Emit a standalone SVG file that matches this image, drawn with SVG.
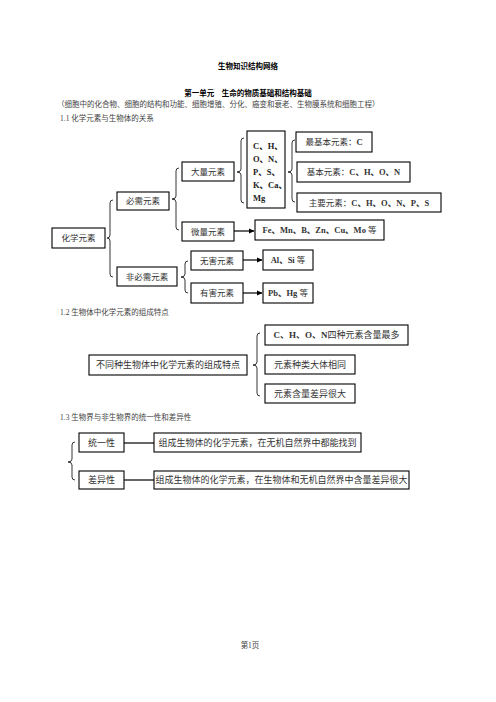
<svg xmlns="http://www.w3.org/2000/svg" width="496" height="702" viewBox="0 0 496 702">
<style>
.bg{fill:#fff}
.box{fill:#fff;stroke:#000;stroke-width:1.1}
.t{font-family:"Liberation Serif","Noto Sans CJK SC",serif;font-size:8.5px;fill:#333;text-anchor:middle}
.t9{font-family:"Liberation Serif","Noto Sans CJK SC",serif;font-size:9px;fill:#333;text-anchor:middle}
.tl{font-family:"Liberation Serif","Noto Sans CJK SC",serif;font-size:8.5px;fill:#222;font-weight:bold}
.cap{font-family:"Liberation Serif","Noto Sans CJK SC",serif;font-size:7.5px;fill:#444}
.hd{font-family:"Noto Sans CJK SC",sans-serif;font-size:7.5px;font-weight:bold;fill:#000;text-anchor:middle}
.brace{fill:none;stroke:#000;stroke-width:0.8}
.ln{fill:none;stroke:#000;stroke-width:1.2}
</style>
<defs>
<marker id="ah" markerWidth="6" markerHeight="6" refX="5" refY="3" orient="auto" markerUnits="userSpaceOnUse">
<path d="M0,0.5 L5.5,3 L0,5.5 Z" fill="#000"/>
</marker>
</defs>
<rect class="bg" x="0" y="0" width="496" height="702"/>

<g id="headings">
<text class="hd" x="248" y="69">生物知识结构网络</text>
<text class="hd" x="248" y="96">第一单元　生命的物质基础和结构基础</text>
<text class="cap" x="57" y="107">（细胞中的化合物、细胞的结构和功能、细胞增殖、分化、癌变和衰老、生物膜系统和细胞工程）</text>
<text class="cap" x="60" y="121">1.1 化学元素与生物体的关系</text>
<text class="cap" x="60" y="315">1.2 生物体中化学元素的组成特点</text>
<text class="cap" x="60" y="420">1.3 生物界与非生物界的统一性和差异性</text>
<text class="cap" x="250" y="648" text-anchor="middle">第1页</text>
</g>

<g id="connectors">
<path class="brace" d="M113 200 Q110 200 110 203 L110 235 Q110 238 107 238 Q110 238 110 241 L110 274 Q110 277 113 277"/>
<path class="brace" d="M179 168 Q176 168 176 171 L176 196 Q176 199 172 199 Q176 199 176 202 L176 227 Q176 230 179 230"/>
<path class="brace" d="M188 261 Q185 261 185 264 L185 274 Q185 277 181 277 Q185 277 185 280 L185 290 Q185 293 188 293"/>
<path class="brace" d="M244 138 Q241 138 241 141 L241 169 Q241 172 237 172 Q241 172 241 175 L241 200 Q241 203 244 203"/>
<path class="brace" d="M295 140 Q292 140 292 143 L292 169 Q292 172 288 172 Q292 172 292 175 L292 199 Q292 202 295 202"/>
<path class="brace" d="M260 333 Q257 333 257 336 L257 362 Q257 365 253 365 Q257 365 257 368 L257 393 Q257 396 260 396"/>
<path class="brace" d="M75 442 Q72 442 72 445 L72 459 Q72 462 68 462 Q72 462 72 465 L72 477 Q72 480 75 480"/>
<line class="ln" x1="234" y1="231" x2="254" y2="231" marker-end="url(#ah)"/>
<line class="ln" x1="243" y1="260" x2="262" y2="260" marker-end="url(#ah)"/>
<line class="ln" x1="243" y1="293" x2="262" y2="293" marker-end="url(#ah)"/>
<line class="ln" x1="124" y1="443" x2="154" y2="443"/>
<line class="ln" x1="124" y1="480" x2="154" y2="480"/>
</g>

<g id="n-huaxue"><rect class="box" x="52" y="228" width="53" height="20"/><text class="t" x="78.5" y="241.2">化学元素</text></g>
<g id="n-bixu"><rect class="box" x="117" y="192" width="52" height="18"/><text class="t" x="143" y="204.2">必需元素</text></g>
<g id="n-feibixu"><rect class="box" x="117" y="267" width="60" height="19"/><text class="t" x="147" y="279.7">非必需元素</text></g>
<g id="n-daliang"><rect class="box" x="182" y="162" width="52" height="19"/><text class="t" x="208" y="174.7">大量元素</text></g>
<g id="n-weiliang"><rect class="box" x="182" y="222" width="52" height="19"/><text class="t" x="208" y="234.7">微量元素</text></g>
<g id="n-wuhai"><rect class="box" x="191" y="251" width="52" height="19"/><text class="t" x="217" y="263.7">无害元素</text></g>
<g id="n-youhai"><rect class="box" x="191" y="283" width="52" height="20"/><text class="t" x="217" y="296.2">有害元素</text></g>
<g id="n-chlist"><rect class="box" x="247" y="131" width="38" height="77"/>
<text class="tl" x="253" y="149">C、H、</text>
<text class="tl" x="253" y="162">O、N、</text>
<text class="tl" x="253" y="175">P、S、</text>
<text class="tl" x="253" y="188">K、Ca、</text>
<text class="tl" x="253" y="201">Mg</text></g>
<g id="n-zuijiben"><rect class="box" x="296" y="132" width="76" height="20"/><text class="t" x="334" y="145.2">最基本元素：<tspan font-weight="bold">C</tspan></text></g>
<g id="n-jiben"><rect class="box" x="297" y="162" width="113" height="20"/><text class="t" x="353.5" y="175.2">基本元素：<tspan font-weight="bold">C、H、O、N</tspan></text></g>
<g id="n-zhuyao"><rect class="box" x="297" y="193" width="144" height="19"/><text class="t" x="369" y="205.7">主要元素：<tspan font-weight="bold">C、H、O、N、P、S</tspan></text></g>
<g id="n-fe"><rect class="box" x="255" y="220" width="129" height="20"/><text class="t" x="319.5" y="233.2"><tspan font-weight="bold">Fe、Mn、B、Zn、Cu、Mo</tspan> 等</text></g>
<g id="n-al"><rect class="box" x="263" y="250" width="50" height="20"/><text class="t" x="288" y="263.2"><tspan font-weight="bold">Al、Si</tspan> 等</text></g>
<g id="n-pb"><rect class="box" x="263" y="283" width="50" height="20"/><text class="t" x="288" y="296.2"><tspan font-weight="bold">Pb、Hg</tspan> 等</text></g>

<g id="n-butong"><rect class="box" x="89" y="355" width="158" height="20"/><text class="t9" x="168" y="368.3">不同种生物体中化学元素的组成特点</text></g>
<g id="n-chon"><rect class="box" x="265" y="325" width="143" height="20"/><text class="t9" x="336.5" y="338.3"><tspan font-weight="bold">C、H、O、N</tspan>四种元素含量最多</text></g>
<g id="n-zhonglei"><rect class="box" x="265" y="355" width="90" height="19"/><text class="t9" x="310" y="367.8">元素种类大体相同</text></g>
<g id="n-hanliang"><rect class="box" x="265" y="384" width="90" height="19"/><text class="t9" x="310" y="396.8">元素含量差异很大</text></g>

<g id="n-tongyi"><rect class="box" x="79" y="433" width="45" height="19"/><text class="t9" x="101.5" y="445.8">统一性</text></g>
<g id="n-chayi"><rect class="box" x="79" y="471" width="45" height="18"/><text class="t9" x="101.5" y="483.3">差异性</text></g>
<g id="n-tongyi-d"><rect class="box" x="154" y="433" width="207" height="19"/><text class="t9" x="257.5" y="445.8">组成生物体的化学元素，在无机自然界中都能找到</text></g>
<g id="n-chayi-d"><rect class="box" x="154" y="471" width="255" height="18"/><text class="t9" x="281.5" y="483.3">组成生物体的化学元素，在生物体和无机自然界中含量差异很大</text></g>
</svg>
